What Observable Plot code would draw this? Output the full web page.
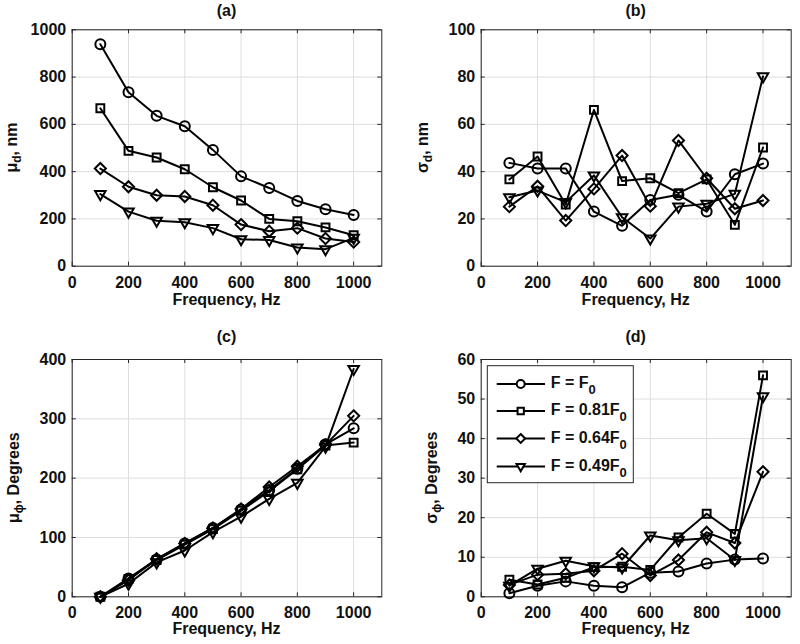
<!DOCTYPE html>
<html><head><meta charset="utf-8">
<script src="https://cdn.jsdelivr.net/npm/d3@7"></script>
<script src="https://cdn.jsdelivr.net/npm/@observablehq/plot@0.6"></script>
<style>
body{margin:0;background:#fff;}
#wrap{position:relative;width:800px;height:644px;background:#fff;}
.panel{position:absolute;}
</style></head><body><div id="wrap"></div>
<script>
// ---- data ----
const freq = [100, 200, 300, 400, 500, 600, 700, 800, 900, 1000];
const seriesKeys = ["F = F0", "F = 0.81F0", "F = 0.64F0", "F = 0.49F0"];
const legendMain = ["F = F", "F = 0.81F", "F = 0.64F", "F = 0.49F"];
const legendSub = ["0", "0", "0", "0"];
const xTicks = [0, 200, 400, 600, 800, 1000];

// (a) mean displacement, nm
const muD_F0  = [939, 736, 636, 592, 492, 380, 331, 276, 241, 217];
const muD_F81 = [668, 488, 460, 410, 334, 278, 200, 190, 164, 131];
const muD_F64 = [413, 336, 300, 295, 258, 176, 148, 161, 117, 102];
const muD_F49 = [305, 231, 192, 186, 161, 114, 111, 79, 72, 120];
// (b) std displacement, nm
const sdD_F0  = [43.7, 41.3, 41.3, 23.1, 17.1, 28.0, 30.2, 23.1, 38.9, 43.4];
const sdD_F81 = [36.7, 46.4, 26.1, 66.1, 36.0, 37.2, 30.9, 36.7, 17.5, 50.2];
const sdD_F64 = [25.2, 33.8, 19.3, 32.7, 46.8, 25.4, 53.2, 37.2, 24.3, 27.8];
const sdD_F49 = [29.2, 32.0, 27.1, 38.4, 20.7, 11.7, 25.2, 26.4, 30.6, 80.3];
// (c) mean phase, degrees
const muP_F0  = [0, 31, 63, 90, 116, 147, 180, 216, 257, 284];
const muP_F81 = [0, 30, 62, 88, 114, 145, 178, 215, 255, 260];
const muP_F64 = [0, 28, 64, 90, 116, 148, 185, 220, 256, 305];
const muP_F49 = [0, 22, 58, 78, 109, 135, 165, 192, 253, 384];
// (d) std phase, degrees
const sdP_F0  = [0.9, 2.8, 3.9, 2.8, 2.4, 6.1, 6.4, 8.4, 9.4, 9.7];
const sdP_F81 = [4.3, 3.1, 4.8, 7.5, 7.6, 6.8, 15.0, 21.0, 15.9, 56.0];
const sdP_F64 = [3.0, 5.6, 5.8, 6.6, 10.9, 5.4, 9.3, 16.3, 13.6, 31.6];
const sdP_F49 = [2.8, 7.1, 9.1, 7.7, 7.4, 15.5, 14.3, 14.8, 9.3, 50.7];

// ---- styles ----
const symbols = ["circle", "square2", "diamond2", "triangle2"];
const rotations = [0, 0, 0, 180];
const FONT = "'Liberation Sans', Arial, Helvetica, sans-serif";
const GRID = "#dedede";
const AXC = "#262626";

function makePanel(cfg) {
  const {left, top, width, height, mt, mr, mb, ml, yDomain, yTicks, values,
         title, yMain, ySub, yRest, yLabelX, titleY, xLabelY} = cfg;
  const h = height - mt - mb, w = width - ml - mr, tk = 4;
  const marks = [
    Plot.gridX(xTicks, {stroke: GRID, strokeOpacity: 1}),
    Plot.gridY(yTicks, {stroke: GRID, strokeOpacity: 1}),
    Plot.frame({stroke: AXC, strokeWidth: 1}),
    Plot.tickX(xTicks, {x: d => d, insetTop: h - tk, stroke: AXC}),
    Plot.tickX(xTicks, {x: d => d, insetBottom: h - tk, stroke: AXC}),
    Plot.tickY(yTicks, {y: d => d, insetRight: w - tk, stroke: AXC}),
    Plot.tickY(yTicks, {y: d => d, insetLeft: w - tk, stroke: AXC}),
    Plot.axisX(xTicks, {tickSize: 0, tickPadding: 10, label: null, fill: "#111", tickFormat: d => String(d)}),
    Plot.axisY(yTicks, {tickSize: 0, tickPadding: 6, label: null, fill: "#111", tickFormat: d => String(d)})
  ];
  seriesKeys.forEach((k, si) => {
    const rows = freq.map((f, i) => ({f, v: values[si][i], s: k}));
    marks.push(Plot.line(rows, {x: "f", y: "v", stroke: "black", strokeWidth: 2}));
    marks.push(Plot.dot(rows, {x: "f", y: "v", symbol: symbols[si], rotate: rotations[si],
      r: 5, stroke: "black", strokeWidth: 2, fill: "none"}));
  });
  const svgEl = Plot.plot({
    width, height, marginTop: mt, marginRight: mr, marginBottom: mb, marginLeft: ml,
    x: {domain: [0, 1100]}, y: {domain: yDomain},
    style: {fontFamily: FONT, fontSize: "16px", fontWeight: "bold", background: "white", color: "#111"},
    marks
  });
  const svg = d3.select(svgEl);
  const cx = ml + w / 2, cy = mt + h / 2;
  svg.append("text").attr("x", cx).attr("y", titleY).attr("text-anchor", "middle")
    .attr("fill", "#111").text(title);
  svg.append("text").attr("x", cx).attr("y", xLabelY).attr("text-anchor", "middle")
    .attr("fill", "#111").text("Frequency, Hz");
  const t = svg.append("text").attr("transform", `translate(${yLabelX},${cy}) rotate(-90)`)
    .attr("text-anchor", "middle").attr("fill", "#111");
  t.append("tspan").text(yMain);
  t.append("tspan").attr("dy", 4).attr("font-size", 12).text(ySub);
  t.append("tspan").attr("dy", -4).text(yRest);
  const div = document.createElement("div");
  div.className = "panel";
  div.style.left = left + "px"; div.style.top = top + "px";
  div.appendChild(svgEl);
  document.getElementById("wrap").appendChild(div);
  return svg;
}

makePanel({left: 0, top: 0, width: 400, height: 320, mt: 29.3, mr: 18.7, mb: 54.3, ml: 71.7,
  yDomain: [0, 1000], yTicks: [0, 200, 400, 600, 800, 1000],
  values: [muD_F0, muD_F81, muD_F64, muD_F49],
  title: "(a)", yMain: "μ", ySub: "d", yRest: ", nm", yLabelX: 17, titleY: 15.5, xLabelY: 305});

makePanel({left: 400, top: 0, width: 400, height: 320, mt: 29.3, mr: 9.3, mb: 54.3, ml: 80.7,
  yDomain: [0, 100], yTicks: [0, 20, 40, 60, 80, 100],
  values: [sdD_F0, sdD_F81, sdD_F64, sdD_F49],
  title: "(b)", yMain: "σ", ySub: "d", yRest: ", nm", yLabelX: 28, titleY: 15.5, xLabelY: 305});

makePanel({left: 0, top: 320, width: 400, height: 324, mt: 39, mr: 18.7, mb: 47.7, ml: 71.7,
  yDomain: [0, 400], yTicks: [0, 100, 200, 300, 400],
  values: [muP_F0, muP_F81, muP_F64, muP_F49],
  title: "(c)", yMain: "μ", ySub: "ϕ", yRest: ", Degrees", yLabelX: 19, titleY: 22, xLabelY: 314});

const svgD = makePanel({left: 400, top: 320, width: 400, height: 324, mt: 39, mr: 9.3, mb: 47.7, ml: 80.7,
  yDomain: [0, 60], yTicks: [0, 10, 20, 30, 40, 50, 60],
  values: [sdP_F0, sdP_F81, sdP_F64, sdP_F49],
  title: "(d)", yMain: "σ", ySub: "ϕ", yRest: ", Degrees", yLabelX: 37, titleY: 22, xLabelY: 314});

// ---- legend (panel d) ----
const lg = svgD.append("g");
lg.append("rect").attr("x", 87.3).attr("y", 45.7).attr("width", 146).attr("height", 117)
  .attr("fill", "white").attr("stroke", AXC).attr("stroke-width", 1);
const rowY = [64, 91, 118.5, 146.5];
const symMap = [d3.symbolCircle, d3.symbolSquare2, d3.symbolDiamond2, d3.symbolTriangle2];
seriesKeys.forEach((k, i) => {
  const y = rowY[i];
  lg.append("line").attr("x1", 96.7).attr("x2", 145).attr("y1", y).attr("y2", y)
    .attr("stroke", "black").attr("stroke-width", 2);
  lg.append("path").attr("d", d3.symbol(symMap[i], Math.PI * 16)())
    .attr("transform", `translate(120.7,${y}) rotate(${rotations[i]})`)
    .attr("fill", "white").attr("stroke", "black").attr("stroke-width", 2);
  const tx = lg.append("text").attr("x", 150.7).attr("y", y + 4).attr("fill", "#111")
    .attr("text-anchor", "start");
  tx.append("tspan").text(legendMain[i]);
  tx.append("tspan").attr("dy", 6).attr("font-size", 13).text(legendSub[i]);
});
</script></body></html>
